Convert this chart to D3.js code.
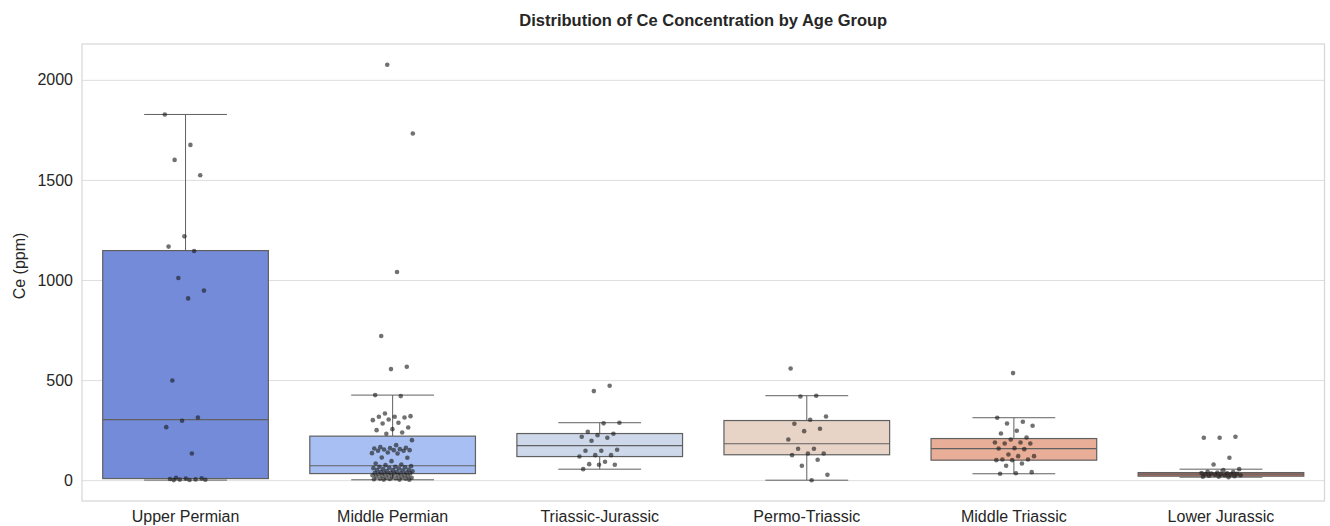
<!DOCTYPE html>
<html>
<head>
<meta charset="utf-8">
<script src="https://cdn.jsdelivr.net/npm/d3@7"></script>
<style>
    body { margin: 0; background: #fff; }
    svg { display: block; font-family: "Liberation Sans", Arial, sans-serif; }
</style>
</head>
<body>
<div id="chart"></div>
<script>
// categories and box statistics
const categories = ["Upper Permian", "Middle Permian", "Triassic-Jurassic", "Permo-Triassic", "Middle Triassic", "Lower Jurassic"];
const q1Values = [8, 33, 118, 127, 100, 20];
const medianValues = [303, 72, 173, 182, 158, 30];
const q3Values = [1147, 220, 233, 298, 208, 38];
const whiskerLow = [0.5, 2, 55, 0, 32, 15];
const whiskerHigh = [1827, 425, 287, 422, 312, 55];
const yTicks = [0, 500, 1000, 1500, 2000];

// individual samples per group
const upperPermian = [1827, 1675, 1600, 1523, 1218, 1167, 1145, 1010, 947, 908, 498, 313, 297, 265, 133, 12, 9, 8, 6, 4, 3, 2, 1, 0.5];
const middlePermian = [2075, 1732, 1040, 720, 567, 555, 425, 420, 333, 320, 317, 317, 313, 303, 300, 287, 283, 263, 255, 250, 238, 232,
    200, 175, 165, 162, 160, 158, 155, 153, 150, 150, 147, 147, 138, 135, 133, 113, 112, 95, 83, 78, 75,
    70, 67, 67, 64, 62, 60, 58, 55, 52, 50, 50, 48, 45, 44, 42, 40, 38, 37, 36, 35, 34, 34,
    32, 30, 28, 27, 25, 24, 22, 20, 18, 17, 15, 13, 12, 10, 8, 8, 6, 5, 3, 3, 2];
const triassicJurassic = [472, 445, 287, 284, 242, 232, 225, 217, 212, 197, 152, 147, 147, 125, 125, 118, 92, 80, 77, 77, 55];
const permoTriassic = [558, 422, 418, 318, 302, 282, 257, 245, 203, 157, 157, 133, 133, 125, 102, 72, 27, 0];
const middleTriassic = [535, 312, 292, 283, 272, 247, 233, 213, 203, 188, 188, 183, 183, 160, 158, 155, 128, 120, 120, 103, 103, 100, 100, 83, 72, 40, 35, 32];
const lowerJurassic = [217, 212, 212, 112, 78, 55, 50, 42, 40, 38, 36, 35, 33, 32, 30, 30, 28, 27, 25, 25, 22, 20, 18, 17, 15];
const groupPoints = [upperPermian, middlePermian, triassicJurassic, permoTriassic, middleTriassic, lowerJurassic];

// coolwarm palette, desaturated like seaborn boxes
const boxColors = ["#738bd9", "#a7bff2", "#ced8eb", "#e8d3c7", "#e9ae97", "#c27463"];

const W = 1330, H = 526;
const margin = {top: 44, right: 5.5, bottom: 25, left: 82};

const svg = d3.select("#chart").append("svg")
    .attr("width", W)
    .attr("height", H);

const x = d3.scaleBand()
    .domain(categories)
    .range([margin.left, W - margin.right]);
const y = d3.scaleLinear()
    .domain([-104, 2179])
    .range([H - margin.bottom, margin.top]);

const bw = x.bandwidth();
const boxW = bw * 0.8;
const capW = bw * 0.4;
const lineColor = "#606060";

// grid
svg.append("g")
    .attr("transform", `translate(${margin.left},0)`)
    .call(d3.axisLeft(y).tickValues(yTicks).tickSize(-(W - margin.left - margin.right)).tickFormat(""))
    .call(g => g.select(".domain").remove())
    .call(g => g.selectAll("line").attr("stroke", "#dedede").attr("stroke-width", 1));

// y labels
svg.append("g")
    .attr("transform", `translate(${margin.left},0)`)
    .call(d3.axisLeft(y).tickValues(yTicks).tickSize(0).tickPadding(9).tickFormat(d3.format("d")))
    .call(g => g.select(".domain").remove())
    .call(g => g.selectAll("text").attr("font-size", 16).attr("fill", "#262626").attr("font-family", "Liberation Sans, Arial, sans-serif"));

// x labels
svg.append("g")
    .attr("transform", `translate(0,${H - margin.bottom})`)
    .call(d3.axisBottom(x).tickSize(0).tickPadding(10))
    .call(g => g.select(".domain").remove())
    .call(g => g.selectAll("text").attr("font-size", 16).attr("fill", "#262626").attr("font-family", "Liberation Sans, Arial, sans-serif"));

// boxes
const boxes = svg.append("g")
    .selectAll("g")
    .data(categories)
    .join("g")
    .attr("transform", d => `translate(${x(d) + bw / 2},0)`);

boxes.append("line")
    .attr("y1", (d, i) => y(q3Values[i]))
    .attr("y2", (d, i) => y(whiskerHigh[i]))
    .attr("stroke", lineColor);
boxes.append("line")
    .attr("y1", (d, i) => y(q1Values[i]))
    .attr("y2", (d, i) => y(whiskerLow[i]))
    .attr("stroke", lineColor);
boxes.append("line")
    .attr("x1", -capW / 2).attr("x2", capW / 2)
    .attr("y1", (d, i) => y(whiskerHigh[i]))
    .attr("y2", (d, i) => y(whiskerHigh[i]))
    .attr("stroke", lineColor);
boxes.append("line")
    .attr("x1", -capW / 2).attr("x2", capW / 2)
    .attr("y1", (d, i) => y(whiskerLow[i]))
    .attr("y2", (d, i) => y(whiskerLow[i]))
    .attr("stroke", lineColor);
boxes.append("rect")
    .attr("x", -boxW / 2)
    .attr("width", boxW)
    .attr("y", (d, i) => y(q3Values[i]))
    .attr("height", (d, i) => y(q1Values[i]) - y(q3Values[i]))
    .attr("fill", (d, i) => boxColors[i])
    .attr("stroke", lineColor)
    .attr("stroke-width", 1.2);
boxes.append("line")
    .attr("x1", -boxW / 2).attr("x2", boxW / 2)
    .attr("y1", (d, i) => y(medianValues[i]))
    .attr("y2", (d, i) => y(medianValues[i]))
    .attr("stroke", lineColor)
    .attr("stroke-width", 1.2);

// strip points, fixed jitter pattern within +-0.1 of a category
function jitter(i, g) {
    const f = (i * 0.6180339887 + g * 0.37) % 1;
    return (f - 0.5) * 0.2 * bw;
}
boxes.append("g")
    .selectAll("circle")
    .data((d, g) => groupPoints[g].map((v, i) => ({v: v, dx: jitter(i, g)})))
    .join("circle")
    .attr("cx", d => d.dx)
    .attr("cy", d => y(d.v))
    .attr("r", 2.3)
    .attr("fill", "#1a1a1a")
    .attr("fill-opacity", 0.62);

// frame
svg.append("rect")
    .attr("x", margin.left)
    .attr("y", margin.top)
    .attr("width", W - margin.left - margin.right)
    .attr("height", H - margin.top - margin.bottom)
    .attr("fill", "none")
    .attr("stroke", "#d6d6d6")
    .attr("stroke-width", 1.2);

// title and y label
svg.append("text")
    .attr("x", margin.left + (W - margin.left - margin.right) / 2)
    .attr("y", 26)
    .attr("text-anchor", "middle")
    .attr("font-size", 16.5)
    .attr("font-weight", "bold")
    .attr("fill", "#262626")
    .text("Distribution of Ce Concentration by Age Group");

svg.append("text")
    .attr("transform", "translate(25,266) rotate(-90)")
    .attr("text-anchor", "middle")
    .attr("font-size", 16)
    .attr("fill", "#262626")
    .text("Ce (ppm)");
</script>
</body>
</html>
